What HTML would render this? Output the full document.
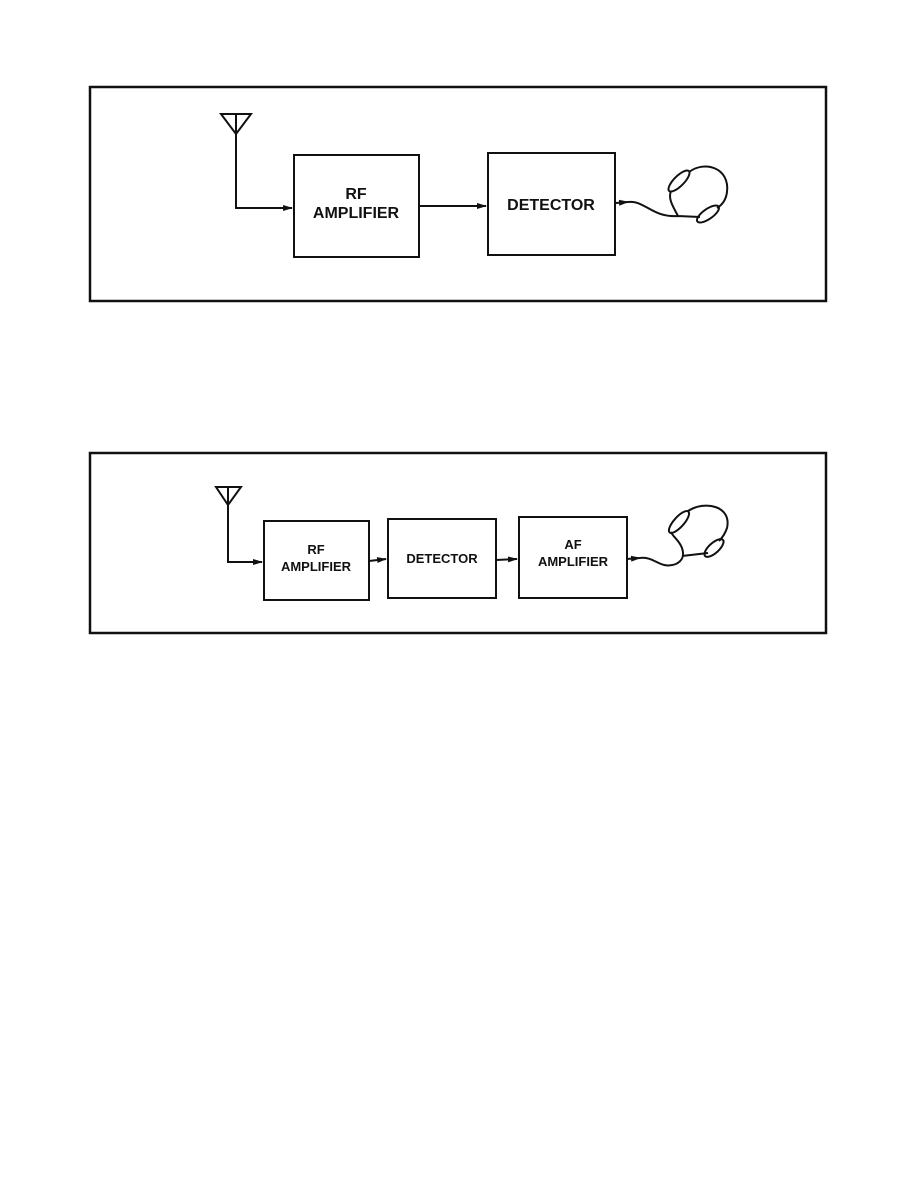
<!DOCTYPE html>
<html><head><style>
html,body{margin:0;padding:0;background:#fff;}
svg{display:block;}
text{font-family:"Liberation Sans",Arial,sans-serif;font-weight:bold;fill:#111;text-anchor:middle;}
</style></head><body>
<svg width="918" height="1188" viewBox="0 0 918 1188" xmlns="http://www.w3.org/2000/svg">
<defs>
<marker id="a" markerWidth="10" markerHeight="8" refX="9" refY="4" orient="auto" markerUnits="userSpaceOnUse">
<path d="M0,1 L10,4 L0,7 Z" fill="#111"/></marker>
</defs>
<g stroke="#111" fill="none" stroke-width="2">
<rect x="90" y="87" width="736" height="214" stroke-width="2.5"/>
<path d="M221,114 L251,114 L236,134 Z"/>
<path d="M236,114 L236,208 L292,208" marker-end="url(#a)"/>
<rect x="294" y="155" width="125" height="102"/>
<path d="M419,206 L486,206" marker-end="url(#a)"/>
<rect x="488" y="153" width="127" height="102"/>
<path d="M616,203 L628,202" marker-end="url(#a)"/>
<path d="M628,202 C645,200 652,218 678,216 C672,205 668,198 671,191 M678,216 L700,217" stroke-width="2"/>
<path d="M689,172 C705,160 730,168 727,192 C726,200 722,205 717,208" stroke-width="2"/>
<ellipse cx="679" cy="181" rx="5" ry="14" transform="rotate(45 679 181)" stroke-width="2"/>
<ellipse cx="708" cy="214" rx="5" ry="13" transform="rotate(55 708 214)" stroke-width="2"/>
<rect x="90" y="453" width="736" height="180" stroke-width="2.5"/>
<path d="M216,487 L241,487 L228,505 Z"/>
<path d="M228,487 L228,562 L262,562" marker-end="url(#a)"/>
<rect x="264" y="521" width="105" height="79"/>
<path d="M369,561 L386,559" marker-end="url(#a)"/>
<rect x="388" y="519" width="108" height="79"/>
<path d="M496,560 L517,559" marker-end="url(#a)"/>
<rect x="519" y="517" width="108" height="81"/>
<path d="M627,559 L640,558" marker-end="url(#a)"/>
<path d="M640,558 C655,556 660,570 676,564 C684,560 684,554 682,548 C679,540 673,537 671,532 M682,556 L708,553" stroke-width="2"/>
<path d="M688,511 C705,500 732,506 727,528 C725,534 722,538 719,541" stroke-width="2"/>
<ellipse cx="679" cy="522" rx="5" ry="14" transform="rotate(42 679 522)" stroke-width="2"/>
<ellipse cx="714" cy="548" rx="5" ry="12" transform="rotate(48 714 548)" stroke-width="2"/>
</g>
<text x="356" y="199" font-size="16">RF</text>
<text x="356" y="218" font-size="16">AMPLIFIER</text>
<text x="551" y="210" font-size="16">DETECTOR</text>
<text x="316" y="554" font-size="13">RF</text>
<text x="316" y="571" font-size="13">AMPLIFIER</text>
<text x="442" y="563" font-size="13">DETECTOR</text>
<text x="573" y="549" font-size="13">AF</text>
<text x="573" y="566" font-size="13">AMPLIFIER</text>
</svg>
</body></html>
